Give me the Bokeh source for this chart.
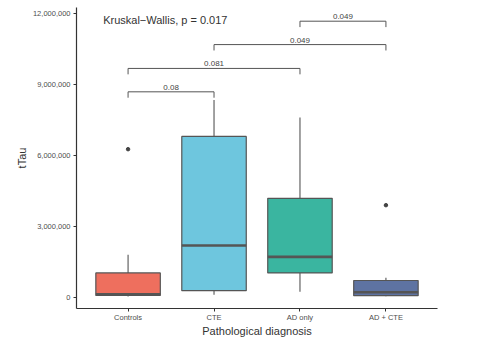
from bokeh.plotting import figure
from bokeh.models import Range1d, FixedTicker, ColumnDataSource, Label
from bokeh.embed import file_html
from bokeh.resources import INLINE

categories = ["Controls", "CTE", "AD only", "AD + CTE"]
colors = ["#EE6F5E", "#6EC6DE", "#3AB5A0", "#5E73A2"]
q1 = [80000, 280000, 1030000, 70000]
median = [130000, 2190000, 1710000, 210000]
q3 = [1030000, 6810000, 4190000, 710000]
lower = [30000, 110000, 230000, 40000]
upper = [1800000, 8350000, 7610000, 830000]
outlier_cat = [1, 4]
outlier_val = [6270000, 3900000]

# significance brackets (group index from, to, height, label)
br_from = [1, 1, 2, 3]
br_to = [2, 3, 4, 4]
br_y = [8700000, 9690000, 10700000, 11690000]
br_label = ["0.08", "0.081", "0.049", "0.049"]
kw_text = "Kruskal\u2212Wallis, p = 0.017"
x_title = "Pathological diagnosis"
y_title = "tTau"

yticks = [0, 3000000, 6000000, 9000000, 12000000]

FONT = "Liberation Sans"
GREY = "#555555"

p = figure(width=483, height=339, output_backend="svg", toolbar_location=None,
           x_range=Range1d(0.4, 4.6), y_range=Range1d(-475000, 12270000),
           min_border_left=76, min_border_right=46, min_border_top=7, min_border_bottom=20)
p.outline_line_color = None
p.xgrid.visible = False
p.ygrid.visible = False
p.background_fill_color = "white"

xs = list(range(1, len(categories) + 1))
src = ColumnDataSource(dict(x=xs, q1=q1, med=median, q3=q3, lo=lower, hi=upper, color=colors))

p.segment(x0="x", y0="q3", x1="x", y1="hi", source=src, line_color=GREY, line_width=1.1)
p.segment(x0="x", y0="lo", x1="x", y1="q1", source=src, line_color=GREY, line_width=1.1)
p.vbar(x="x", width=0.75, bottom="q1", top="q3", source=src, fill_color="color",
       line_color=GREY, line_width=1.2)
p.rect(x="x", y="med", width=0.75, height=2.6, height_units="screen", source=src,
       fill_color=GREY, line_color=None)
p.scatter(outlier_cat, outlier_val, size=3.5, color="#444444")

tip = 250000
bx, by = [], []
for a, b, y in zip(br_from, br_to, br_y):
    bx.append([a, a, b, b])
    by.append([y - tip, y, y, y - tip])
p.multi_line(bx, by, line_color=GREY, line_width=1)
lab_src = ColumnDataSource(dict(x=[(a + b) / 2 for a, b in zip(br_from, br_to)],
                                y=br_y, t=br_label))
p.text(x="x", y="y", text="t", source=lab_src, text_align="center", text_baseline="bottom",
       text_font_size="8px", text_color="#444444", y_offset=-2, text_font={"value": FONT})

p.add_layout(Label(x=0.71, y=11760000, text=kw_text, text_align="left", text_baseline="middle",
                   text_font_size="11px", text_color="#333333", text_font=FONT))

for ax in (p.xaxis[0], p.yaxis[0]):
    ax.axis_line_color = "#333333"
    ax.axis_line_width = 1.2
    ax.major_tick_line_color = "#333333"
    ax.major_tick_in = 0
    ax.major_tick_out = 3
    ax.minor_tick_line_color = None
    ax.major_label_text_font = FONT
    ax.major_label_text_font_size = "7.5px"
    ax.major_label_text_color = "#4D4D4D"
    ax.axis_label_text_font = FONT
    ax.axis_label_text_font_style = "normal"
    ax.axis_label_text_font_size = "11px"
    ax.axis_label_text_color = "#333333"

p.xaxis.ticker = FixedTicker(ticks=xs)
p.xaxis.major_label_overrides = {i: c for i, c in zip(xs, categories)}
p.xaxis.axis_label = x_title
p.xaxis.major_label_standoff = 1
p.xaxis.axis_label_standoff = 0

p.yaxis.ticker = FixedTicker(ticks=yticks)
p.yaxis.major_label_overrides = {t: f"{t:,}" for t in yticks}
p.yaxis.axis_label = y_title
p.yaxis.major_label_standoff = 3
p.yaxis.axis_label_standoff = 2

open("out.html", "w").write(file_html(p, INLINE))
